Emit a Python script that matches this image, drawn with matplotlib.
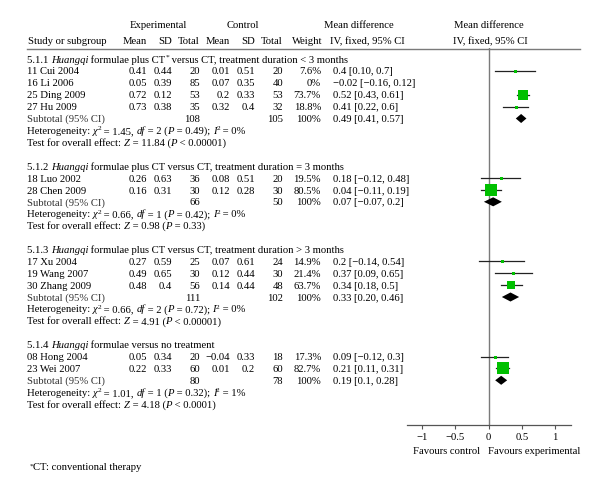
import matplotlib
matplotlib.use("Agg")
import matplotlib.pyplot as plt
from matplotlib.transforms import blended_transform_factory
from matplotlib.lines import Line2D

plt.rcParams['font.family'] = ['Liberation Serif', 'DejaVu Serif']

FS = 7.7

# ---------------- data ----------------
group_titles = [
    [("5.1.1 ", "n"), ("Huangqi", "i"), (" formulae plus CT", "n"), ("*", "sup"),
     (" versus CT, treatment duration < 3 months", "n")],
    [("5.1.2 ", "n"), ("Huangqi", "i"), (" formulae plus CT versus CT, treatment duration = 3 months", "n")],
    [("5.1.3 ", "n"), ("Huangqi", "i"), (" formulae plus CT versus CT, treatment duration > 3 months", "n")],
    [("5.1.4 ", "n"), ("Huangqi", "i"), (" formulae versus no treatment", "n")],
]
studies = [
    ["11 Cui 2004", "16 Li 2006", "25 Ding 2009", "27 Hu 2009"],
    ["18 Luo 2002", "28 Chen 2009"],
    ["17 Xu 2004", "19 Wang 2007", "30 Zhang 2009"],
    ["08 Hong 2004", "23 Wei 2007"],
]
exp_mean = [["0.41", "0.05", "0.72", "0.73"], ["0.26", "0.16"], ["0.27", "0.49", "0.48"], ["0.05", "0.22"]]
exp_sd = [["0.44", "0.39", "0.12", "0.38"], ["0.63", "0.31"], ["0.59", "0.65", "0.4"], ["0.34", "0.33"]]
exp_n = [["20", "85", "53", "35"], ["36", "30"], ["25", "30", "56"], ["20", "60"]]
ctl_mean = [["0.01", "0.07", "0.2", "0.32"], ["0.08", "0.12"], ["0.07", "0.12", "0.14"], ["-0.04", "0.01"]]
ctl_sd = [["0.51", "0.35", "0.33", "0.4"], ["0.51", "0.28"], ["0.61", "0.44", "0.44"], ["0.33", "0.2"]]
ctl_n = [["20", "40", "53", "32"], ["20", "30"], ["24", "30", "48"], ["18", "60"]]
weight = [["7.6", "0", "73.7", "18.8"], ["19.5", "80.5"], ["14.9", "21.4", "63.7"], ["17.3", "82.7"]]
md = [["0.4", "-0.02", "0.52", "0.41"], ["0.18", "0.04"], ["0.2", "0.37", "0.34"], ["0.09", "0.21"]]
md_lo = [["0.10", "-0.16", "0.43", "0.22"], ["-0.12", "-0.11"], ["-0.14", "0.09", "0.18"], ["-0.12", "0.11"]]
md_hi = [["0.7", "0.12", "0.61", "0.6"], ["0.48", "0.19"], ["0.54", "0.65", "0.5"], ["0.3", "0.31"]]

sub_exp_n = ["108", "66", "111", "80"]
sub_ctl_n = ["105", "50", "102", "78"]
sub_md = ["0.49", "0.07", "0.33", "0.19"]
sub_lo = ["0.41", "-0.07", "0.20", "0.1"]
sub_hi = ["0.57", "0.2", "0.46", "0.28"]

het_chi2 = ["1.45", "0.66", "0.66", "1.01"]
het_df = ["2", "1", "2", "1"]
het_p = ["0.49", "0.42", "0.72", "0.32"]
het_i2 = ["0%", "0%", "0%", "1%"]
z_val = ["11.84", "0.98", "4.91", "4.18"]
z_p = ["< 0.00001", "= 0.33", "< 0.00001", "< 0.0001"]

xticks = [-1, -0.5, 0, 0.5, 1]
xticklabels = ["\u22121", "\u22120.5", "0", "0.5", "1"]


def disp(s):
    return s.replace("-", "\u2212")


# ---------------- layout ----------------
W, H = 600, 496
fig = plt.figure(figsize=(6, 4.96), dpi=100)
renderer = fig.canvas.get_renderer()

step = 11.9
row0_px = 59
ax_top_px, ax_bot_px = 48, 425
ax_l_px, ax_r_px = 407, 571
ax = fig.add_axes([ax_l_px / W, 1 - ax_bot_px / H, (ax_r_px - ax_l_px) / W, (ax_bot_px - ax_top_px) / H])
ax.set_ylim((ax_bot_px - row0_px) / step, (ax_top_px - row0_px) / step)
ax.set_xlim(-1.226, 1.24)

for s in ["top", "right", "left"]:
    ax.spines[s].set_visible(False)
ax.spines["bottom"].set_color("#555555")
ax.spines["bottom"].set_linewidth(0.9)
ax.set_yticks([])
ax.set_xticks(xticks)
ax.set_xticklabels(xticklabels, fontsize=FS)
ax.tick_params(axis="x", length=3, width=0.8, color="#555555", pad=2.5)
ax.axvline(0, color="#7a7a7a", lw=1.0, zorder=1)

tr = blended_transform_factory(fig.transFigure, ax.transData)
BASE = 3.6 / step  # baseline offset (rows) below row centre

def fx(px):
    return px / W

def put(px, row, s, ha="right", **kw):
    ax.text(fx(px), row + BASE, s, transform=tr, ha=ha, va="baseline", fontsize=FS,
            clip_on=False, **kw)

def text_width(s, size, style):
    t1 = fig.text(0, 0, "|" + s + "|", fontsize=size, fontstyle=style)
    t2 = fig.text(0, 0, "||", fontsize=size, fontstyle=style)
    w = t1.get_window_extent(renderer).width - t2.get_window_extent(renderer).width
    t1.remove()
    t2.remove()
    return w

def put_rich(px, row, pieces, color="black"):
    x = px
    for s, kind in pieces:
        if kind == "sup":
            size, style, dy = FS * 0.7, "normal", -3.5 / step
        elif kind == "i":
            size, style, dy = FS, "italic", 0
        else:
            size, style, dy = FS, "normal", 0
        ax.text(fx(x), row + BASE + dy, s, transform=tr, ha="left", va="baseline",
                fontsize=size, fontstyle=style, clip_on=False, color=color)
        x += text_width(s, size, style)

# header
for txt, xc, yp in [("Experimental", 158, 26), ("Control", 243, 26),
                    ("Mean difference", 359, 26), ("Mean difference", 489, 26)]:
    fig.text(fx(xc), 1 - yp / H, txt, ha="center", va="center", fontsize=FS)
fig.text(fx(28), 1 - 42 / H, "Study or subgroup", ha="left", va="center", fontsize=FS)
for txt, xr in [("Mean", 147), ("SD", 172), ("Total", 200), ("Mean", 230), ("SD", 255), ("Total", 283)]:
    fig.text(fx(xr), 1 - 42 / H, txt, ha="right", va="center", fontsize=FS)
fig.text(fx(292), 1 - 42 / H, "Weight", ha="left", va="center", fontsize=FS)
fig.text(fx(367), 1 - 42 / H, "IV, fixed, 95% CI", ha="center", va="center", fontsize=FS)
fig.text(fx(490), 1 - 42 / H, "IV, fixed, 95% CI", ha="center", va="center", fontsize=FS)
fig.add_artist(Line2D([fx(27), fx(580)], [1 - 49 / H, 1 - 49 / H], transform=fig.transFigure,
                      color="#7a7a7a", lw=1.0))

green = "#00c000"
row = 0
for g in range(len(group_titles)):
    put_rich(27, row, group_titles[g])
    row += 1
    for i in range(len(studies[g])):
        put(27, row, studies[g][i], ha="left")
        put(147, row, disp(exp_mean[g][i]))
        put(172, row, disp(exp_sd[g][i]))
        put(200, row, exp_n[g][i])
        put(230, row, disp(ctl_mean[g][i]))
        put(255, row, disp(ctl_sd[g][i]))
        put(283, row, ctl_n[g][i])
        put(321, row, weight[g][i] + "%")
        put(333, row, disp(md[g][i]) + " [" + disp(md_lo[g][i]) + ", " + disp(md_hi[g][i]) + "]", ha="left")
        w = float(weight[g][i])
        if w > 0:
            lo, hi, m = float(md_lo[g][i]), float(md_hi[g][i]), float(md[g][i])
            ax.plot([lo, hi], [row, row], color="#222222", lw=0.9, zorder=2)
            side_px = max(3.0, 0.14 * w)
            ax.plot([m], [row], marker="s", color=green, markersize=side_px * 0.72,
                    markeredgewidth=0, zorder=3)
        row += 1
    # subtotal
    put(27, row, "Subtotal (95% CI)", ha="left", color="#333333")
    put(200, row, sub_exp_n[g])
    put(283, row, sub_ctl_n[g])
    put(321, row, "100%")
    put(333, row, disp(sub_md[g]) + " [" + disp(sub_lo[g]) + ", " + disp(sub_hi[g]) + "]", ha="left")
    lo, hi, m = float(sub_lo[g]), float(sub_hi[g]), float(sub_md[g])
    h = 0.38
    ax.fill([lo, m, hi, m], [row, row - h, row, row + h], color="black", lw=0, zorder=3)
    row += 1
    put_rich(27, row, [("Heterogeneity: ", "n"), ("\u03c7", "i"), ("2", "sup"),
                       (" = " + het_chi2[g] + ", ", "n"), ("df", "i"),
                       (" = " + het_df[g] + " (", "n"), ("P", "i"),
                       (" = " + het_p[g] + "); ", "n"), ("I", "i"), ("2", "sup"),
                       (" = " + het_i2[g], "n")])
    row += 1
    put_rich(27, row, [("Test for overall effect: ", "n"), ("Z", "i"),
                       (" = " + z_val[g] + " (", "n"), ("P", "i"), (" " + z_p[g] + ")", "n")])
    row += 2

fig.text(fx(480), 1 - 452 / H, "Favours control", ha="right", va="center", fontsize=FS)
fig.text(fx(488), 1 - 452 / H, "Favours experimental", ha="left", va="center", fontsize=FS)
fig.text(fx(30), 1 - 466 / H, "*", ha="left", va="center", fontsize=FS * 0.7)
fig.text(fx(33), 1 - 468 / H, "CT: conventional therapy", ha="left", va="center", fontsize=FS)

fig.savefig("out.png", dpi=100, facecolor="white")
